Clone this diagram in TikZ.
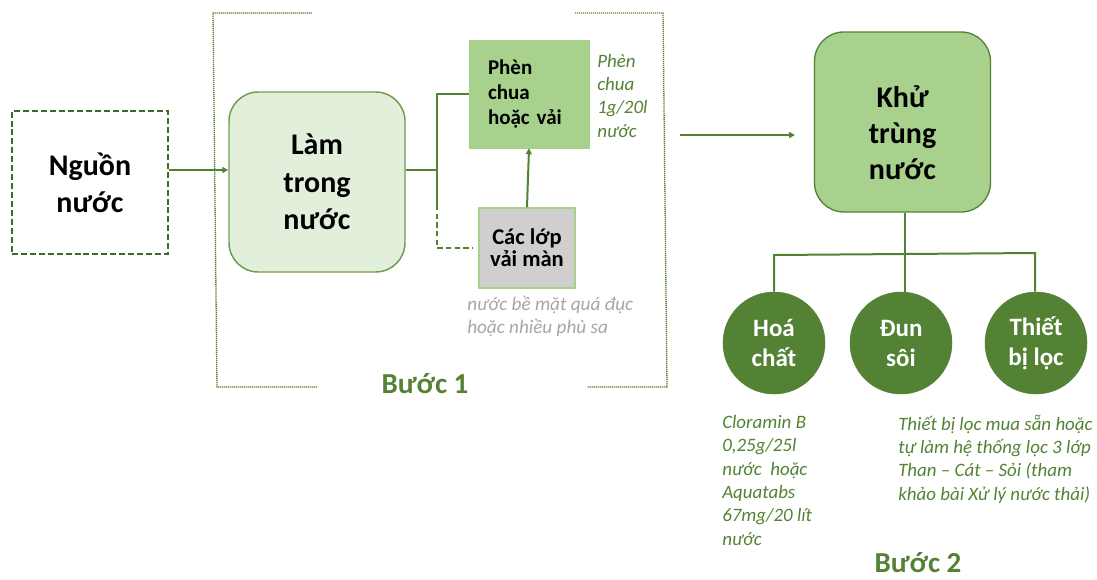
\documentclass[tikz,border=0pt]{standalone}
\usepackage{fontspec}
\setmainfont{Carlito}[BoldFont={Carlito Bold},ItalicFont={Carlito Italic},BoldItalicFont={Carlito Bold Italic}]
\usetikzlibrary{arrows.meta}
\definecolor{gdark}{HTML}{548235}
\definecolor{gdeep}{HTML}{3F6A2C}
\definecolor{glight}{HTML}{A9D18E}
\definecolor{gpale}{HTML}{E2EFDA}
\definecolor{gborder}{HTML}{6E9E4F}
\definecolor{grayfill}{HTML}{D0CECE}
\definecolor{graytext}{HTML}{A6A6A6}
\begin{document}
\begin{tikzpicture}[x=0.75pt,y=-0.75pt,
  conn/.style={draw=gdark,line width=1.5pt},
  arr/.style={conn,-{Triangle[length=4.5pt,width=4.5pt]}},
  bracket/.style={draw=gdark,line width=1pt,dash pattern=on 0.8pt off 0.7pt},
  bigtext/.style={font=\bfseries\fontsize{22.5}{28}\selectfont,align=center,text=black},
  midtext/.style={font=\bfseries\fontsize{15.75}{18.75}\selectfont,text=black},
  note/.style={font=\itshape\fontsize{14.2}{17.5}\selectfont,align=left,anchor=base west,inner sep=0pt},
  circ/.style={circle,fill=gdark,draw=gdark,minimum size=76.5pt,inner sep=0pt,
     font=\bfseries\fontsize{18.75}{22.5}\selectfont,text=white,align=center},
  steptitle/.style={font=\bfseries\fontsize{21.75}{26}\selectfont,text=gdark,anchor=base,inner sep=0pt}
]
\useasboundingbox (0,0) rectangle (1097,579);

% bracket of step 1
\draw[bracket] (312,13) -- (213,13) -- (217,387) -- (317,387);
\draw[bracket] (575,13) -- (663,13) -- (667,387) -- (587,387);

% nodes
\node[draw=gdeep,line width=1.6pt,dash pattern=on 4.5pt off 2.2pt,
      minimum width=117pt,minimum height=107.25pt,bigtext] (src) at (90,182.5) {Nguồn\\nước};
\node[draw=gborder,fill=gpale,line width=1.1pt,rounded corners=22pt,
      minimum width=132pt,minimum height=135pt,bigtext] (clar) at (317,182) {Làm\\trong\\nước};
\node[fill=glight,draw=glight,minimum width=90pt,minimum height=81pt,
      midtext,text width=61.5pt,align=left] (alum) at (529,94) {Phèn\\chua\\hoặc vải};
\node[fill=grayfill,draw=glight,line width=1.1pt,minimum width=72pt,minimum height=60pt,
      font=\bfseries\fontsize{16.9}{16.5}\selectfont,align=center] (cloth) at (527,248) {Các lớp\\vải màn};
\node[draw=gdark,fill=glight,line width=1pt,rounded corners=22pt,
      minimum width=132pt,minimum height=135pt] (dis) at (902.5,122) {};
\node[bigtext,font=\bfseries\fontsize{22.5}{27}\selectfont,inner sep=0pt] (dist) at ([yshift=-8pt]dis.center) {Khử\\trùng\\nước};

\node[circ] (c1) at (774,343) {Hoá\\chất};
\node[circ] (c2) at (901,343) {Đun\\sôi};
\node[circ] (c3) at (1036,343) {Thiết\\bị lọc};

% notes (anchored at the baseline of their last line)
\node[note,text=gdark] (n1) at (597,137) {Phèn\\chua\\1g/20l\\nước};
\node[note,text=graytext,font=\itshape\fontsize{14.4}{16.6}\selectfont] (n2) at (467,333) {nước bề mặt quá đục\\hoặc nhiều phù sa};
\node[note,text=gdark] (n3) at (722,545) {Cloramin B\\0,25g/25l\\nước\ \ hoặc\\Aquatabs\\67mg/20 lít\\nước};
\node[note,text=gdark] (n4) at (898,500) {Thiết bị lọc mua sẵn hoặc\\tự làm hệ thống lọc 3 lớp\\Than – Cát – Sỏi (tham\\khảo bài Xử lý nước thải)};

\node[steptitle] (b1) at (425,393) {Bước 1};
\node[steptitle] (b2) at (918,572) {Bước 2};

% connectors
\coordinate (j1) at (437,170);
\coordinate (j2) at (437,205);
\coordinate (j3) at (437,248);
\draw[arr] (src.east |- j1) -- (clar.west |- j1);
\draw[conn] (clar.east |- j1) -- (j1);
\draw[conn] (j2) -- (j1) |- (alum.west);
\draw[conn,dash pattern=on 4pt off 2.5pt,line width=1.3pt] (j2) -- (j3) -- ([xshift=-4.5pt]cloth.west);
\draw[arr] (cloth.north) -- (alum.south);

\coordinate (a1) at (680,135);
\coordinate (a2) at (795,135);
\draw[arr] (a1) -- (a2);

\coordinate (h1) at (774,255);
\coordinate (h2) at (1035,253);
\draw[conn] ([xshift=2pt]dis.south) -- ([xshift=2pt]dis.south |- c2.north);
\draw[conn] (c1.north) -- (h1) -- (h2) -- (h2 |- c3.north);
\end{tikzpicture}
\end{document}
